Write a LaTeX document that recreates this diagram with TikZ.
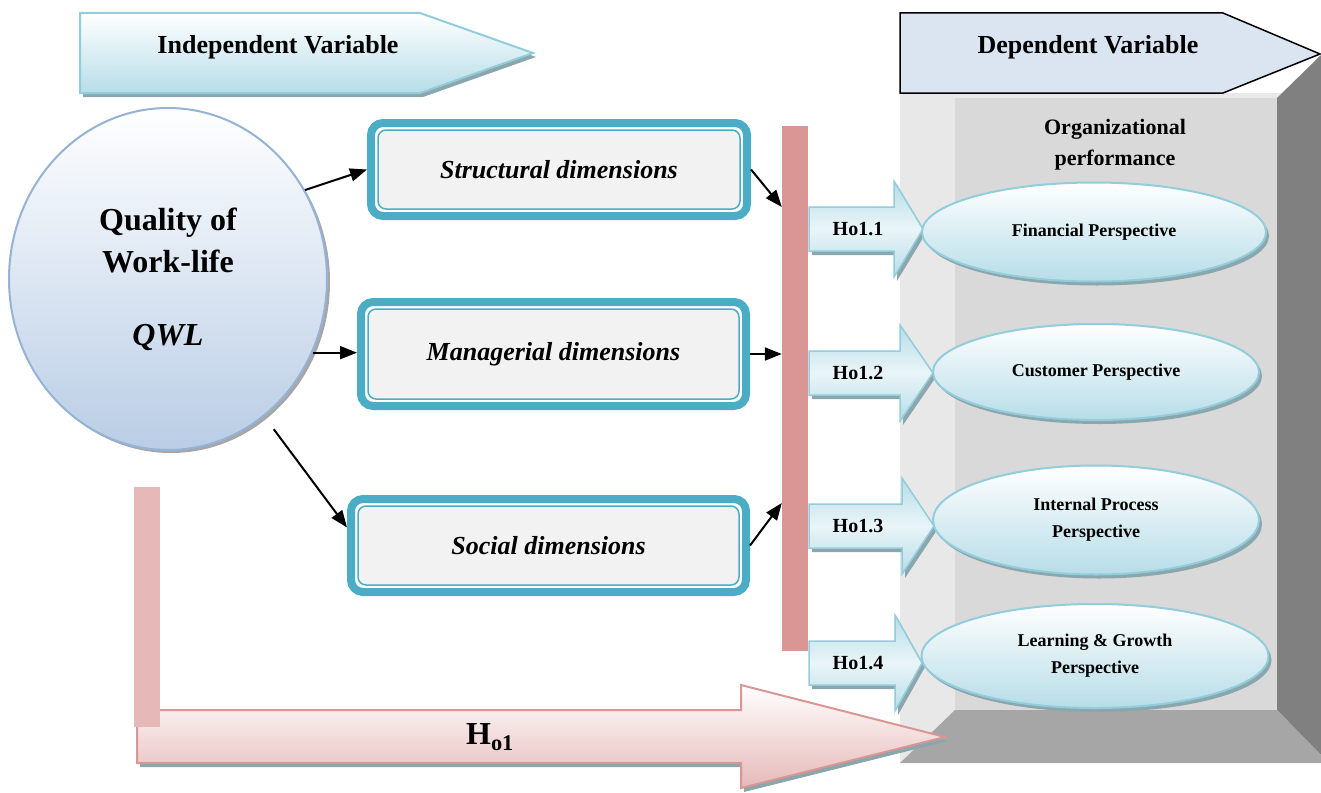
\documentclass[tikz,border=0pt]{standalone}
\usepackage{fontspec}
\setmainfont{Liberation Serif}
\usetikzlibrary{arrows.meta,shapes.geometric,shadows}
\definecolor{hdrline}{HTML}{92CDDC}
\definecolor{hdrfill}{HTML}{B7DDE8}
\definecolor{depfill}{HTML}{DBE5F1}
\definecolor{wallside}{HTML}{E8E8E8}
\definecolor{wallback}{HTML}{D9D9D9}
\definecolor{wallright}{HTML}{808080}
\definecolor{wallfloor}{HTML}{A6A6A6}
\definecolor{qwlline}{HTML}{95B3D7}
\definecolor{qwlfill}{HTML}{B9CDE5}
\definecolor{dimblue}{HTML}{4BACC6}
\definecolor{dimfill}{HTML}{F2F2F2}
\definecolor{barred}{HTML}{D99694}
\definecolor{barpink}{HTML}{E6B9B8}
\definecolor{shadowgray}{HTML}{8BA6AD}
\begin{document}
\begin{tikzpicture}[
  x = 1pt, y = -1pt,
  softshadow/.style = {
    drop shadow = {shadow xshift = 3pt, shadow yshift = -4pt, fill = shadowgray, opacity = 1}
  },
  dimbox/.style = {
    shape = rectangle,
    rounded corners = 8pt,
    fill = dimfill,
    draw = dimblue,
    line width = 1.5pt,
    outer sep = 11pt,
    font = \fontsize{26}{30}\selectfont\bfseries\itshape,
  },
  perspective/.style = {
    shape = ellipse,
    draw = hdrline,
    line width = 2pt,
    top color = white,
    bottom color = hdrfill,
    inner sep = 0pt,
    align = center,
    softshadow,
    font = \fontsize{18}{27}\selectfont\bfseries,
  },
  hoarrow/.style = {
    draw = hdrline, line width = 1.5pt,
    top color = hdrfill, bottom color = hdrfill, middle color = hdrfill!30,
    softshadow,
  },
  link/.style = {-{Triangle[length = 17pt, width = 13pt]}, line width = 2pt},
  bar/.style = {shape = rectangle, inner sep = 0pt, minimum width = 26pt}
]
  \useasboundingbox (0, 0) rectangle (1321, 792);

  % box of the dependent side
  \fill[wallside] (900, 93) rectangle (1321, 763);
  \fill[wallback] (955, 98) rectangle (1277, 710);
  \fill[wallright] (1277, 98) -- (1321, 55) -- (1321, 755) -- (1277, 710) -- cycle;
  \fill[wallfloor] (955, 710) -- (1277, 710) -- (1321, 755) -- (1321, 763) -- (900, 763) -- cycle;

  % headers
  \draw[top color = white, bottom color = hdrfill, draw = hdrline, line width = 2pt, softshadow]
    (80, 13) -- (420, 13) -- (533, 53) -- (420, 93) -- (80, 93) -- cycle;
  \node[font = \fontsize{26}{30}\selectfont\bfseries] (indep) at (278, 47) {Independent Variable};
  \draw[fill = depfill, draw = black, line width = 1.5pt]
    (900, 13) -- (1223, 13) -- (1320, 54) -- (1223, 93) -- (900, 93) -- cycle;
  \node[font = \fontsize{26}{30}\selectfont\bfseries] (dep) at (1088, 47) {Dependent Variable};
  \node[align = center, font = \fontsize{22}{31}\selectfont\bfseries] (orgperf) at (1115, 145)
    {Organizational\\performance};

  % independent variable
  \node[shape = ellipse, minimum width = 318pt, minimum height = 342pt, draw = qwlline,
    line width = 2pt, top color = white, bottom color = qwlfill, align = center,
    drop shadow = {shadow xshift = 3pt, shadow yshift = -3pt, fill = gray!70, opacity = 1},
    font = \fontsize{32}{42}\selectfont\bfseries] (qwl) at (168, 279)
    {Quality of\\Work-life\\[31pt]\textit{QWL}};

  \node[dimbox, minimum width = 362pt, minimum height = 79pt] (strd) at (559, 169.5) {Structural dimensions};
  \node[dimbox, minimum width = 371pt, minimum height = 90pt] (mand) at (553.5, 354) {Managerial dimensions};
  \node[dimbox, minimum width = 381pt, minimum height = 79pt] (socd) at (548.5, 545.5) {Social dimensions};
  \foreach \b in {strd, mand, socd}
    \draw[dimblue, line width = 8pt, rounded corners = 12pt]
      ([shift = {(4, 4)}]\b.north west) rectangle ([shift = {(-4, -4)}]\b.south east);

  \node[bar, fill = barred, minimum height = 525pt] (gate) at (795, 388.5) {};

  % hypotheses
  \foreach \n/\c/\bx/\tx in {1/229/894/923, 2/373/900/933, 3/526/902/934, 4/663/895/922} {
    \draw[hoarrow] (809, \c-22) -- (\bx, \c-22) -- (\bx, \c-48) -- (\tx, \c)
      -- (\bx, \c+48) -- (\bx, \c+22) -- (809, \c+22) -- cycle;
    \node[font = \fontsize{20}{24}\selectfont\bfseries] (ho\n) at (858, \c) {Ho1.\n};
  }

  \node[perspective, minimum width = 344pt, minimum height = 99pt] (fin) at (1094, 232) {Financial Perspective};
  \node[perspective, minimum width = 326pt, minimum height = 96pt] (cus) at (1096, 372) {Customer Perspective};
  \node[perspective, minimum width = 326pt, minimum height = 109pt] (ipp) at (1096, 520) {Internal Process\\Perspective};
  \node[perspective, minimum width = 347pt, minimum height = 104pt] (lgp) at (1095, 656) {Learning \& Growth\\Perspective};

  % overall hypothesis
  \draw[top color = white, bottom color = barpink, draw = barred, line width = 2pt, softshadow]
    (137, 710) -- (741, 710) -- (741, 685) -- (945, 737) -- (741, 788) -- (741, 763) -- (137, 763) -- cycle;
  \node[font = \fontsize{32}{36}\selectfont\bfseries] (hzero) at (490, 737)
    {H\textsubscript{o1}};
  \node[bar, fill = barpink, minimum height = 240pt] (qwlbar) at (147, 607) {};

  % links
  \draw[link] (qwl.33) -- (strd.west);
  \draw[link] (qwl.-27) -- (qwl.-27 -| mand.west);
  \draw[link, shorten <= 16pt] (qwl.-55) -- ([yshift = 18pt]socd.west);
  \draw[link] (strd.east) -- (gate.west |- 0, 207);
  \draw[link] (mand.east) -- (gate.west |- mand.east);
  \draw[link] (socd.east) -- (gate.west |- 0, 503);
\end{tikzpicture}
\end{document}
